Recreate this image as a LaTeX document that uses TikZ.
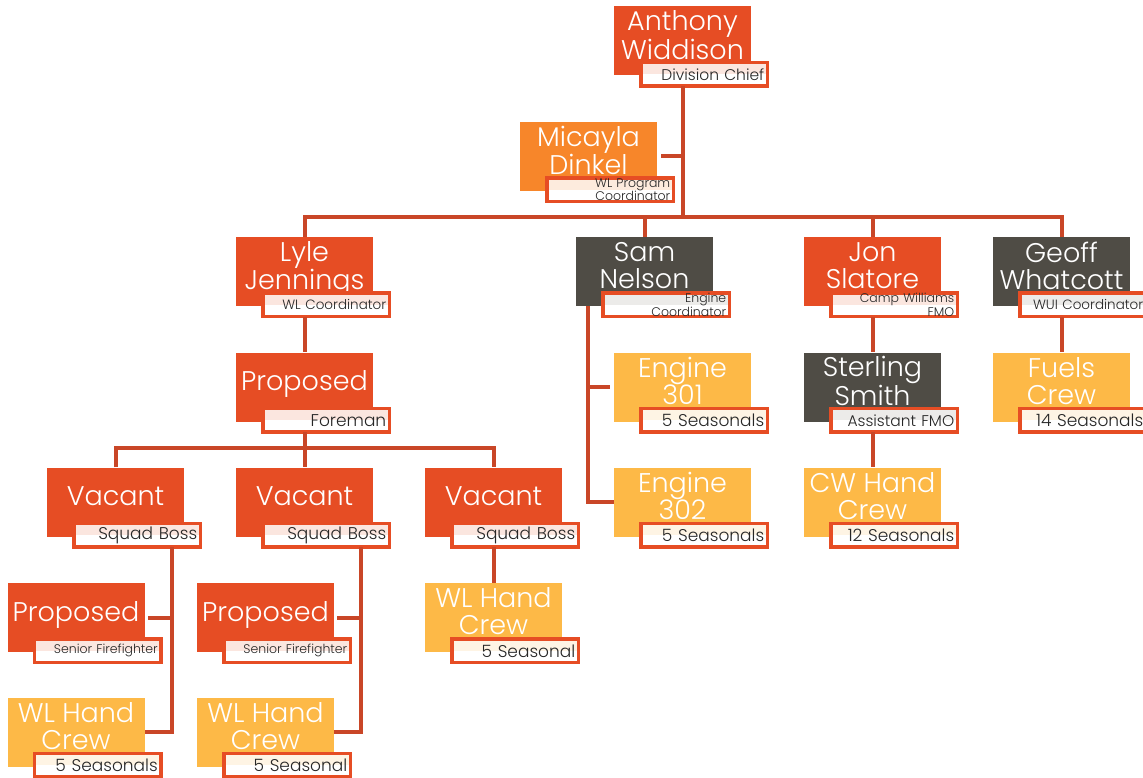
\documentclass[tikz,border=0pt]{standalone}
\usepackage{fontspec}
\setmainfont{Poppins Light}
\definecolor{boxred}{HTML}{E64D24}
\definecolor{boxorange}{HTML}{F7862A}
\definecolor{boxgray}{HTML}{4F4C45}
\definecolor{boxgold}{HTML}{FDB947}
\definecolor{linkred}{HTML}{C94627}
\definecolor{tintred}{HTML}{FBE6DF}
\definecolor{tintorange}{HTML}{FDEBDD}
\definecolor{tintgray}{HTML}{ECEBE9}
\definecolor{tintgold}{HTML}{FEF4E4}
\newcommand{\namefont}{\fontsize{27}{27}\selectfont}
\newcommand{\rolefont}{\fontsize{17}{18}\selectfont}
\newcommand{\midfont}{\fontsize{13.5}{15}\selectfont}
\newcommand{\smallfont}{\fontsize{12.5}{13.5}\selectfont}
\tikzset{
  person/.style={fill=#1, inner sep=0pt, minimum width=137pt, minimum height=69pt,
    text=white, align=center, font=\namefont, text depth=12pt},
  role/.style={fill=white, inner xsep=3pt, inner ysep=0pt,
    text width=120.5pt, minimum height=23.5pt, align=right, text=black!85, font=\rolefont,
    anchor=north east, xshift=16.25pt, yshift=13.25pt,
    path picture={\fill[#1] (path picture bounding box.north west) rectangle (path picture bounding box.east);},
    postaction={draw=boxred, line width=3.5pt}},
  link/.style={draw=linkred, line width=4pt},
}
\begin{document}
\begin{tikzpicture}[x=1pt,y=-1pt]
  \useasboundingbox (0,0) rectangle (1143,778);
  % Division chief and program coordinator
  \node[person=boxred] (anthony) at (682.5,41) {Anthony\\Widdison};
  \node[role=tintred, font=\fontsize{15.5}{16}\selectfont] (anthonyR) at (anthony.south east) {Division Chief};
  \node[person=boxorange] (micayla) at (588.5,156.5) {Micayla\\Dinkel};
  \node[role=tintorange, font=\smallfont] (micaylaR) at (micayla.south east) {WL Program\\Coordinator};
  % Coordinators
  \node[person=boxred] (lyle) at (304.5,271.5) {Lyle\\Jennings};
  \node[role=tintred, font=\midfont] (lyleR) at (lyle.south east) {WL Coordinator};
  \node[person=boxgray] (sam) at (644.5,271.5) {Sam\\Nelson};
  \node[role=tintgray, font=\smallfont] (samR) at (sam.south east) {Engine\\Coordinator};
  \node[person=boxred] (jon) at (872.5,271.5) {Jon\\Slatore};
  \node[role=tintred, font=\smallfont] (jonR) at (jon.south east) {Camp Williams\\FMO};
  \node[person=boxgray] (geoff) at (1061.5,271.5) {Geoff\\Whatcott};
  \node[role=tintgray, font=\midfont] (geoffR) at (geoff.south east) {WUI~Coordinator};
  % Third row
  \node[person=boxred] (foreman) at (304.5,387) {Proposed};
  \node[role=tintred] (foremanR) at (foreman.south east) {Foreman};
  \node[person=boxgold] (engineA) at (682.5,387) {Engine\\301};
  \node[role=tintgold] (engineAR) at (engineA.south east) {5 Seasonals};
  \node[person=boxgray] (sterling) at (872.5,387) {Sterling\\Smith};
  \node[role=tintgray, font=\fontsize{15.5}{16}\selectfont] (sterlingR) at (sterling.south east) {Assistant FMO};
  \node[person=boxgold] (fuels) at (1061.5,387) {Fuels\\Crew};
  \node[role=tintgold] (fuelsR) at (fuels.south east) {14 Seasonals};
  % Squad bosses and crews
  \node[person=boxred] (vacantA) at (115.5,502) {Vacant};
  \node[role=tintred] (vacantAR) at (vacantA.south east) {Squad Boss};
  \node[person=boxred] (vacantB) at (304.5,502) {Vacant};
  \node[role=tintred] (vacantBR) at (vacantB.south east) {Squad Boss};
  \node[person=boxred] (vacantC) at (493.5,502) {Vacant};
  \node[role=tintred] (vacantCR) at (vacantC.south east) {Squad Boss};
  \node[person=boxgold] (engineB) at (682.5,502) {Engine\\302};
  \node[role=tintgold] (engineBR) at (engineB.south east) {5 Seasonals};
  \node[person=boxgold] (cwcrew) at (872.5,502) {CW Hand\\Crew};
  \node[role=tintgold] (cwcrewR) at (cwcrew.south east) {12 Seasonals};
  % Firefighters
  \node[person=boxred] (seniorA) at (76,617.5) {Proposed};
  \node[role=tintred, font=\smallfont] (seniorAR) at (seniorA.south east) {Senior Firefighter};
  \node[person=boxred] (seniorB) at (265.5,617.5) {Proposed};
  \node[role=tintred, font=\smallfont] (seniorBR) at (seniorB.south east) {Senior Firefighter};
  \node[person=boxgold] (crewC) at (493.5,617.5) {WL Hand\\Crew};
  \node[role=tintgold] (crewCR) at (crewC.south east) {5 Seasonal};
  \node[person=boxgold] (crewA) at (76,732) {WL Hand\\Crew};
  \node[role=tintgold] (crewAR) at (crewA.south east) {5 Seasonals};
  \node[person=boxgold] (crewB) at (265.5,732) {WL Hand\\Crew};
  \node[role=tintgold] (crewBR) at (crewB.south east) {5 Seasonal};
  % Connectors
  \coordinate (bus) at (682.5,217);
  \coordinate (busB) at (304.5,448);
  \coordinate (spineA) at ([xshift=-12.5pt]vacantA.south east);
  \coordinate (spineB) at ([xshift=-12.5pt]vacantB.south east);
  \coordinate (spineS) at ([xshift=12pt]sam.south west);
  \draw[link] (anthonyR.south -| anthony.south) -- (bus);
  \draw[link, shorten <=4pt] (micayla.east) -- (micayla.east -| anthony.south);
  \draw[link] (lyle.north) -- (lyle.north |- bus) -- (geoff.north |- bus) -- (geoff.north);
  \draw[link] (sam.north |- bus) -- (sam.north);
  \draw[link] (jon.north |- bus) -- (jon.north);
  \draw[link] (lyleR.south -| lyle.south) -- (foreman.north);
  \draw[link] (geoffR.south -| geoff.south) -- (fuels.north);
  \draw[link] (jonR.south -| jon.south) -- (sterling.north);
  \draw[link] (sterlingR.south -| sterling.south) -- (cwcrew.north);
  \draw[link] (foremanR.south -| foreman.south) -- (busB);
  \draw[link] (vacantA.north) -- (vacantA.north |- busB) -- (vacantC.north |- busB) -- (vacantC.north);
  \draw[link] (vacantB.north |- busB) -- (vacantB.north);
  \draw[link] (vacantCR.south -| vacantC.south) -- (crewC.north);
  \draw[link] (vacantAR.south -| spineA) -- (crewA.east -| spineA) -- (crewA.east);
  \draw[link, shorten >=3pt] (spineA |- seniorA.east) -- (seniorA.east);
  \draw[link] (vacantBR.south -| spineB) -- (crewB.east -| spineB) -- (crewB.east);
  \draw[link, shorten >=3pt] (spineB |- seniorB.east) -- (seniorB.east);
  \draw[link] (sam.south -| spineS) -- (engineB.west -| spineS) -- (engineB.west);
  \draw[link, shorten >=4pt] (spineS |- engineA.west) -- (engineA.west);
\end{tikzpicture}
\end{document}
